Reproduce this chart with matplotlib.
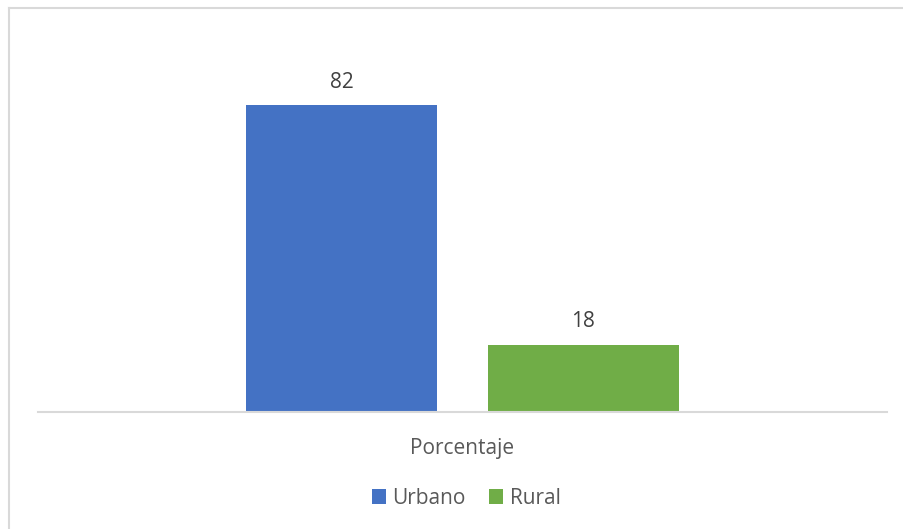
import matplotlib.pyplot as plt
from matplotlib.lines import Line2D

categoria = 'Porcentaje'
series = ['Urbano', 'Rural']
valores = [82, 18]
colores = ['#4472C4', '#70AD47']

W, H = 904, 529
fig = plt.figure(figsize=(W / 100, H / 100), dpi=100)
plt.rcParams['font.family'] = ['Open Sans', 'DejaVu Sans']

# marco gris del grafico (solo izquierda y arriba se ven)
x0, y0 = 8.5 / W, 1 - 7.5 / H
fig.lines.append(Line2D([x0, x0], [0, y0], transform=fig.transFigure, color='#D9D9D9', lw=1.5))
fig.lines.append(Line2D([x0, 1], [y0, y0], transform=fig.transFigure, color='#D9D9D9', lw=1.5))

ax = fig.add_axes([38 / W, 1 - 412 / H, 849 / W, (412 - 75) / H])
ancho = 0.225
offs = [-0.1425, 0.1425]
for s, v, c, o in zip(series, valores, colores, offs):
    ax.bar(o, v, width=ancho, color=c, label=s)
    ax.text(o, v + 4.6, str(v), ha='center', va='baseline', fontsize=15, color='#404040')

ax.set_xlim(-0.5, 0.5)
ax.set_ylim(0, 90)
ax.set_yticks([])
ax.set_xticks([0])
ax.set_xticklabels([categoria], fontsize=15, color='#595959')
ax.tick_params(axis='x', length=0, pad=19)
for sp in ['top', 'right', 'left']:
    ax.spines[sp].set_visible(False)
ax.spines['bottom'].set_color('#D9D9D9')
ax.spines['bottom'].set_linewidth(1.5)

fig.legend(loc='center', bbox_to_anchor=(466 / W, 1 - 498 / H), ncol=2, frameon=False,
           fontsize=15, labelcolor='#595959', handlelength=0.7, handleheight=0.7,
           handletextpad=0.3, columnspacing=1.1)

fig.savefig('out.png', dpi=100)
